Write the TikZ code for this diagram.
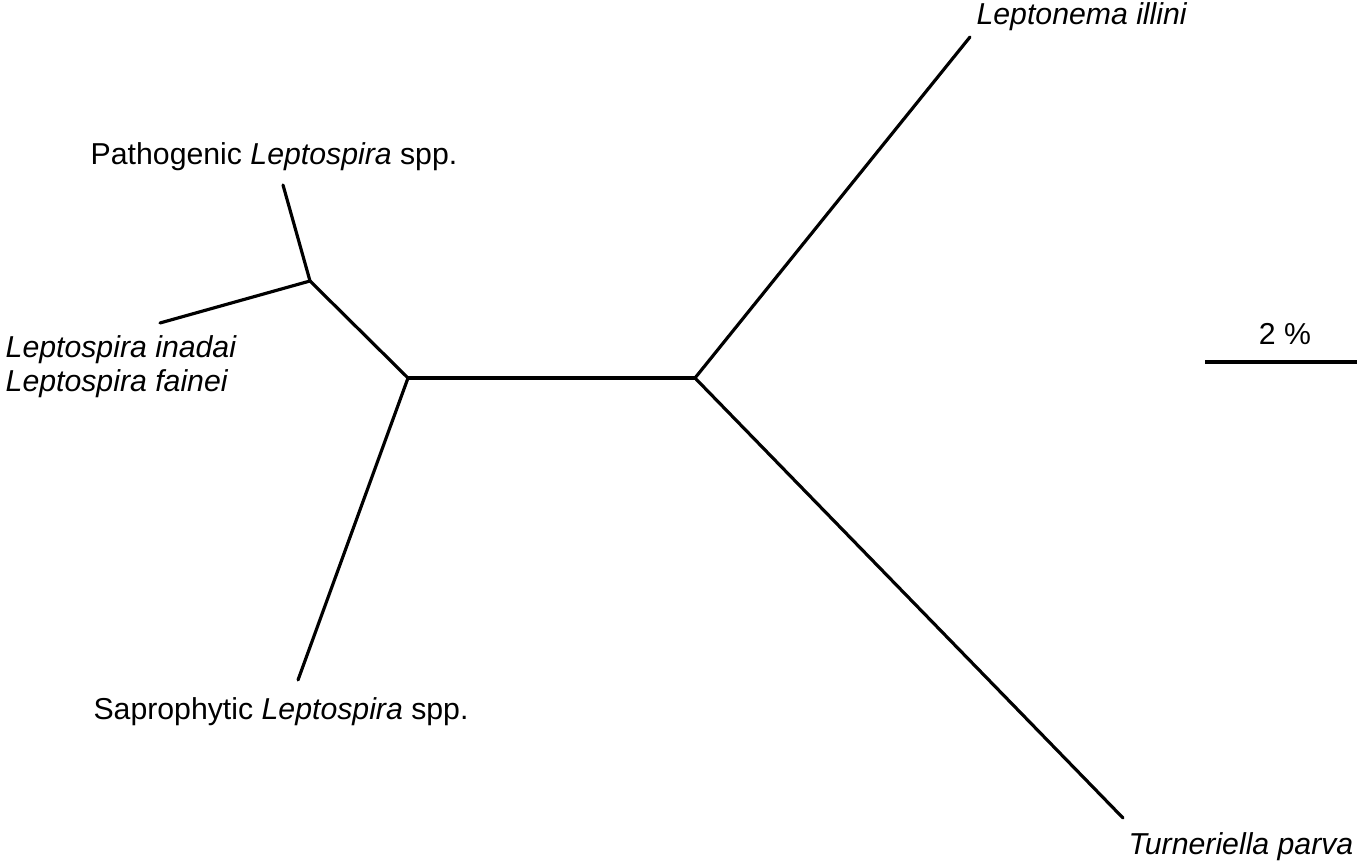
\documentclass[tikz,border=0pt]{standalone}
\usepackage{fontspec}
\setmainfont{Liberation Sans}
\usetikzlibrary{positioning}
\tikzstyle{branch}=[line width=0.9pt,line cap=round]

\begin{document}
\begin{tikzpicture}[x=0.01cm,y=-0.01cm]
    \tikzstyle{taxon}=[font=\fontsize{8.6}{9.6}\selectfont,inner sep=0pt,align=left]

    \useasboundingbox (0,0) rectangle (1361,865);

    % internal nodes
    \coordinate (lepto) at (408,378);
    \coordinate (root) at (695,378);
    \coordinate (patho) at (310,281);

    % tips
    \coordinate (patho_tip) at (283,185);
    \coordinate (inadai_tip) at (160,323);
    \coordinate (sapro_tip) at (298,680);
    \coordinate (illini_tip) at (970,37);
    \coordinate (parva_tip) at (1123,818);

    \node[taxon](patho_lbl) at (274,157){Pathogenic \textit{Leptospira} spp.};
    \node[taxon,anchor=west](inadai_lbl) at (5,367){\textit{Leptospira inadai}\\ \textit{Leptospira fainei}};
    \node[taxon](sapro_lbl) at (281,712){Saprophytic \textit{Leptospira} spp.};
    \node[taxon](illini_lbl) at (1082,17){\textit{Leptonema illini}};
    \node[taxon](parva_lbl) at (1241,847){\textit{Turneriella parva}};

    \draw[branch] (lepto) -- (root);
    \draw[branch] (lepto) -- (patho);
    \draw[branch] (patho) -- (patho_tip);
    \draw[branch] (patho) -- (inadai_tip);
    \draw[branch] (lepto) -- (sapro_tip);
    \draw[branch] (root) -- (illini_tip);
    \draw[branch] (root) -- (parva_tip);

    % scale bar
    \coordinate (bar_l) at (1205,362);
    \coordinate (bar_r) at (1357,362);
    \draw[line width=0.9pt] (bar_l) -- (bar_r);
    \node[taxon](bar_lbl) at (1285,334){2 \%};
  \end{tikzpicture}
\end{document}
